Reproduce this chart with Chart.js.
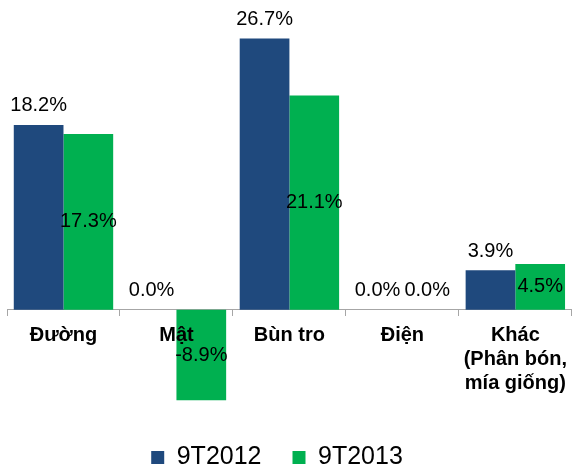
<!DOCTYPE html>
<html>
<head>
<meta charset="utf-8">
<script src="https://cdn.jsdelivr.net/npm/chart.js@4.4.0/dist/chart.umd.min.js"></script>
<style>
  body { margin: 0; overflow: hidden; background: #fff; }
</style>
</head>
<body>
<canvas id="chart" width="575" height="480"></canvas>
<script>
const categories = ["Đường", "Mật", "Bùn tro", "Điện", ["Khác", "(Phân bón,", "mía giống)"]];
const seriesNames = ["9T2012", "9T2013"];
const values2012 = [18.2, 0.0, 26.7, 0.0, 3.9];
const values2013 = [17.3, -8.9, 21.1, 0.0, 4.5];
const seriesColors = ["#1F497D", "#00B050"];

Chart.defaults.font.family = '"Liberation Sans", Arial, sans-serif';
Chart.defaults.color = "#000";

// value labels: first series above the bar, second series in the middle
const barLabels = {
  id: "barLabels",
  afterDatasetsDraw(chart) {
    const ctx = chart.ctx;
    ctx.save();
    ctx.font = '20px "Liberation Sans", Arial, sans-serif';
    ctx.fillStyle = "#000";
    ctx.textAlign = "center";
    ctx.textBaseline = "middle";
    chart.data.datasets.forEach((ds, i) => {
      chart.getDatasetMeta(i).data.forEach((bar, j) => {
        const v = ds.data[j];
        let y;
        if (i === 0 || v === 0) y = bar.y - 19;
        else y = (bar.y + bar.base) / 2;
        ctx.fillText(v.toFixed(1) + "%", bar.x, y);
      });
    });
    ctx.restore();
  }
};

// nudge the legend a bit to the left, like the original
const legendShift = {
  id: "legendShift",
  afterLayout(chart) {
    if (chart.legend) {
      chart.legend.left -= 14;
      chart.legend.right -= 14;
    }
  }
};

new Chart(document.getElementById("chart").getContext("2d"), {
  type: "bar",
  data: {
    labels: categories,
    datasets: [
      { label: seriesNames[0], data: values2012, backgroundColor: seriesColors[0] },
      { label: seriesNames[1], data: values2013, backgroundColor: seriesColors[1] }
    ]
  },
  options: {
    responsive: false,
    animation: false,
    layout: { padding: { left: 7, right: 0, top: 5, bottom: 0 } },
    datasets: { bar: { barPercentage: 1, categoryPercentage: 0.88 } },
    plugins: {
      legend: {
        position: "bottom",
        labels: {
          boxWidth: 13,
          boxHeight: 13,
          padding: 31,
          font: { size: 25 },
          color: "#000"
        }
      },
      tooltip: { enabled: false }
    },
    scales: {
      x: {
        position: { y: 0 },
        grid: { drawOnChartArea: false, drawTicks: true, tickLength: 6, color: "#A6A6A6" },
        border: { display: true, color: "#A6A6A6" },
        ticks: { z: 1, padding: 8, maxRotation: 0, font: { size: 20, weight: "bold" }, color: "#000" }
      },
      y: {
        display: false,
        min: -10.25,
        max: 30
      }
    }
  },
  plugins: [barLabels, legendShift]
});
</script>
</body>
</html>
